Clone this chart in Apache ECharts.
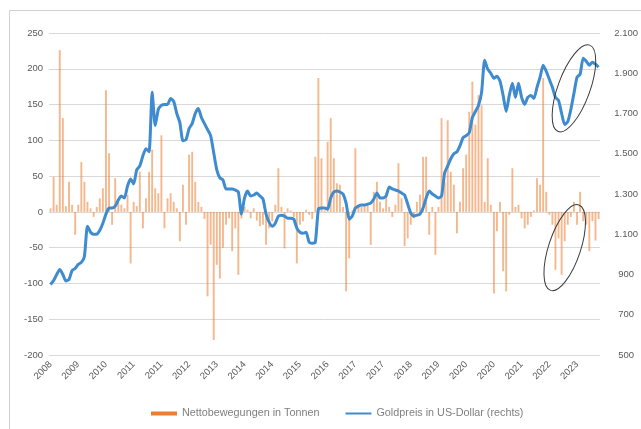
<!DOCTYPE html>
<html>
<head>
<meta charset="utf-8">
<script src="https://cdn.jsdelivr.net/npm/echarts@6/dist/echarts.min.js"></script>
<style>
    html, body { margin: 0; padding: 0; background: #fff; }
    #chart { width: 641px; height: 429px; }
</style>
</head>
<body>
<div id="chart"></div>
<script>
// Monatsreihe Nov 2008 bis Sep 2023 (179 Monate)
const startYear = 2008
const startMonth = 11
const monthCount = 179

// Nettobewegungen in Tonnen (linke Achse)
const flows = [
    5, 49, 10, 226, 131, 8, 42, 10, -32, 10,
    70, 42, 14, 5, -7, 7, 19, 33, 170, 82,
    -18, 47, 19, 10, 5, 24, -72, 14, 8, 56,
    -23, 19, 56, 87, 33, 26, 107, -23, 19, 26,
    14, 5, -41, 38, -18, 80, 84, 42, 14, 7,
    -10, -118, -46, -179, -74, -93, -50, -18, -9, -55,
    -23, -88, -9, 7, 3, -9, 5, -12, -20, -18,
    -46, -23, -13, 10, 61, 7, -51, 5, 2, -7,
    -72, -18, -13, 3, -4, -10, 77, 187, 75, 2,
    98, 131, 75, 40, 38, 7, -111, -65, 2, 89,
    10, 7, 10, 12, -46, 28, 42, 14, 5, 26,
    7, -7, 10, 68, 19, -48, -37, -18, -9, 14,
    24, 77, 77, -32, 7, -60, 7, 131, 42, 128,
    56, 38, -30, 14, 61, 80, 140, 182, 122, 163,
    149, 14, 75, 10, -114, -27, 14, -83, -111, -4,
    61, 7, 10, -9, -23, -18, -7, 2, 47, 38,
    187, 28, -4, -18, -81, -37, -88, -41, -18, -7,
    14, -18, 28, -13, -18, -55, -13, -40, -10
]

// Goldpreis in US-Dollar (rechte Achse)
const goldPrice = [
    850, 870, 900, 925, 900, 868, 875, 920, 930, 950,
    960, 990, 1140, 1110, 1100, 1100, 1120, 1155, 1200, 1230,
    1230, 1240, 1270, 1290, 1280, 1340, 1375, 1350, 1420, 1440,
    1490, 1525, 1510, 1805, 1640, 1720, 1740, 1745, 1745, 1775,
    1760, 1700, 1655, 1565, 1570, 1625, 1650, 1700, 1725, 1680,
    1650, 1620, 1590, 1505, 1420, 1380, 1370, 1325, 1325, 1325,
    1320, 1310, 1200, 1280, 1315, 1290, 1295, 1305, 1290, 1275,
    1200, 1160, 1140, 1155, 1190, 1195, 1190, 1180, 1180, 1175,
    1130, 1110, 1105, 1110, 1060, 1055, 1060, 1225, 1230, 1230,
    1225, 1280, 1310, 1315, 1310, 1300, 1255, 1175, 1190, 1230,
    1240, 1245, 1245, 1250, 1255, 1275, 1305, 1280, 1280, 1290,
    1335, 1325, 1320, 1315, 1305, 1295, 1250, 1205, 1190, 1195,
    1200, 1230, 1280, 1315, 1300, 1290, 1280, 1290, 1405, 1440,
    1475, 1500, 1510, 1540, 1580, 1590, 1605, 1680, 1710, 1740,
    1805, 1965, 1920, 1900, 1875, 1885, 1860, 1790, 1710, 1790,
    1850, 1780, 1850, 1780, 1745, 1780, 1790, 1775, 1830, 1880,
    1940, 1910, 1870, 1830, 1780, 1765, 1700, 1645, 1660, 1720,
    1800, 1880, 1895, 1975, 1960, 1940, 1955, 1945, 1930
]

const leftTicks = [-200, -150, -100, -50, 0, 50, 100, 150, 200, 250]
const rightTicks = [500, 700, 900, 1100, 1300, 1500, 1700, 1900, 2100]

const seriesNames = ['Nettobewegungen in Tonnen', 'Goldpreis in US-Dollar (rechts)']

// Kategorien: Monate als 'YYYY-MM'
const months = []
for (let k = 0; k < monthCount; k++) {
    let m = startMonth - 1 + k
    let y = startYear + Math.floor(m / 12)
    months.push(y + '-' + String(m % 12 + 1).padStart(2, '0'))
}

const font = 'Liberation Sans, Arial, sans-serif'
const textColor = '#595959'
const blue = '#3F8BD0'

const chart = echarts.init(document.getElementById('chart'), null, {renderer: 'canvas'})

const option = {
    backgroundColor: '#ffffff',
    animation: false,
    textStyle: {fontFamily: font},
    grid: {left: 49, right: 40, top: 33, bottom: 74, containLabel: false},
    legend: {
        left: 146,
        top: 403,
        itemWidth: 26,
        itemHeight: 4,
        itemGap: 26,
        textStyle: {color: '#7f7f7f', fontSize: 10.8, fontFamily: font},
        data: [
            {name: seriesNames[0], icon: 'rect', itemStyle: {color: '#ED7D31'}},
            {name: seriesNames[1], icon: 'path://M0,0 L26,0 L26,2 L0,2 Z', itemStyle: {color: blue}}
        ]
    },
    xAxis: {
        type: 'category',
        data: months,
        boundaryGap: true,
        axisLine: {show: false, onZero: false},
        axisTick: {show: false},
        axisLabel: {
            interval: 8,
            rotate: 45,
            margin: 8,
            fontSize: 9.5,
            color: textColor,
            formatter: v => v.slice(0, 4)
        }
    },
    yAxis: [
        {
            type: 'value',
            min: leftTicks[0],
            max: leftTicks[leftTicks.length - 1],
            interval: 50,
            axisLine: {show: false},
            axisTick: {show: false},
            axisLabel: {fontSize: 9.5, color: textColor, margin: 6},
            splitLine: {lineStyle: {color: '#d9d9d9', width: 1}}
        },
        {
            type: 'value',
            min: rightTicks[0],
            max: rightTicks[rightTicks.length - 1],
            interval: 200,
            axisLine: {show: false},
            axisTick: {show: false},
            axisLabel: {
                fontSize: 9.5,
                color: textColor,
                margin: 26,
                align: 'center',
                formatter: v => v >= 1000 ? Math.floor(v / 1000) + '.' + String(v % 1000).padStart(3, '0') : String(v)
            },
            splitLine: {show: false}
        }
    ],
    series: [
        {
            name: seriesNames[0],
            type: 'bar',
            data: flows,
            barWidth: '62%',
            itemStyle: {color: 'rgba(237,125,49,0.55)'}
        },
        {
            name: seriesNames[1],
            type: 'line',
            yAxisIndex: 1,
            data: goldPrice,
            symbol: 'none',
            smooth: 0.2,
            lineStyle: {color: blue, width: 3},
            itemStyle: {color: blue},
            z: 5
        }
    ]
}

chart.setOption(option)

// Rahmen und Ellipsen (Markierungen der letzten Monate)
function px(cat, val, yIdx) {
    return [
        chart.convertToPixel({xAxisIndex: 0}, cat),
        chart.convertToPixel({yAxisIndex: yIdx}, val)
    ]
}
const upper = px(months[170], 1825, 1)
const lower = px(months[167], -50, 0)

chart.setOption({
    graphic: [
        {
            type: 'polyline',
            shape: {points: [[9.5, 440], [9.5, 10.5], [660, 10.5]]},
            style: {stroke: '#d0d0d0', fill: null, lineWidth: 1},
            silent: true
        },
        {
            type: 'ellipse',
            x: upper[0], y: upper[1],
            rotation: -0.35,
            shape: {cx: 0, cy: 0, rx: 16, ry: 46},
            style: {stroke: '#3a3a3a', fill: null, lineWidth: 1},
            z: 10
        },
        {
            type: 'ellipse',
            x: lower[0], y: lower[1],
            rotation: -0.32,
            shape: {cx: 0, cy: 0, rx: 16, ry: 45},
            style: {stroke: '#3a3a3a', fill: null, lineWidth: 1},
            z: 10
        }
    ]
})
</script>
</body>
</html>
